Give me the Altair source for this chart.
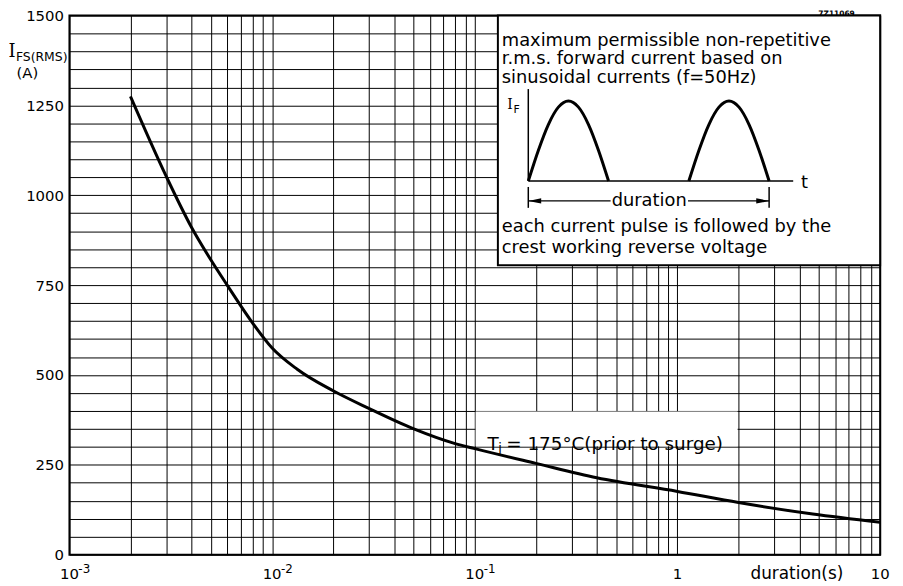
import altair as alt
import pandas as pd

FONT = "DejaVu Sans"
SERIF = "DejaVu Serif"

# ---- main curve ----
DURATION_S = [0.002, 0.003, 0.004, 0.005, 0.006, 0.008, 0.01, 0.0133, 0.02, 0.03,
              0.05, 0.08, 0.1, 0.2, 0.4, 1, 2, 4.65, 10]
I_FS_RMS_A = [1275, 1053, 911, 819, 750, 645, 575, 516, 456, 407,
              350, 309, 295, 254, 214, 176, 145, 113, 90]

# ---- axes ----
X_DOMAIN = [0.001, 10]
Y_DOMAIN = [0, 1500]
X_GRID = [m * 10.0 ** k for k in range(-3, 1) for m in range(1, 10)] + [10]
Y_GRID = list(range(0, 1501, 50))
Y_LABEL_STEP = 250
DECADES = [0.001, 0.01, 0.1, 1, 10]
DECADE_BASE = ["10", "10", "10", "1", "10"]
DECADE_EXP = ["-3", "-2", "-1", "", ""]

# ---- annotation: curve label box (data coordinates) ----
LABEL_BOX_T = [0.101, 1.98]
LABEL_BOX_I = [301.5, 398.5]
LABEL_ANCHOR_T = [0.1154]
LABEL_ANCHOR_I = [309]

# ---- inset box (data coordinates) ----
INSET_BOX_T = [0.13, 10]
INSET_BOX_I = [805, 1500]

# ---- inset schematic (own units: ms, normalised current) ----
INSET_X_DOMAIN = [-57.16, 43.83]
INSET_Y_DOMAIN = [-4.6716, 2.0694]
PULSE_STARTS_MS = [0, 20]
PULSE_LEN_MS = 10
PULSE_PHASE = [0, 0.125, 0.25, 0.375, 0.5, 0.625, 0.75, 0.875, 1]
PULSE_SHAPE = [0, 0.383, 0.707, 0.924, 1, 0.924, 0.707, 0.383, 0]
RULE_X = [0, 0, 0, 19.9, 0, 30]
RULE_X2 = [0, 33, 10.25, 30, 0, 30]
RULE_Y = [0, 0, -0.248, -0.248, -0.074, -0.074]
RULE_Y2 = [1.15, 0, -0.248, -0.248, -0.335, -0.335]
ARROW_MS = [0, 30]
ARROW_IY = [-0.248, -0.248]
INSET_TEXT = ["maximum permissible non-repetitive",
              "r.m.s. forward current based on",
              "sinusoidal currents (f=50Hz)",
              "each current pulse is followed by the",
              "crest working reverse voltage"]
INSET_TEXT_MS = [-3.3, -3.3, -3.3, -3.3, -3.3]
INSET_TEXT_IY = [1.756, 1.520, 1.289, -0.579, -0.843]

W, H = 818, 544

xs = alt.Scale(type="log", domain=X_DOMAIN, nice=False)
ys = alt.Scale(domain=Y_DOMAIN, nice=False, zero=True)
ixs = alt.Scale(domain=INSET_X_DOMAIN, nice=False, zero=False)
iys = alt.Scale(domain=INSET_Y_DOMAIN, nice=False, zero=False)

x_axis = alt.Axis(values=X_GRID, grid=True, labels=False, ticks=False, domain=False,
                  title=None, gridColor="black", gridOpacity=1, gridWidth=1)
y_axis = alt.Axis(values=Y_GRID, grid=True, ticks=False, domain=False, title=None,
                  gridColor="black", gridOpacity=1, gridWidth=1, format="d",
                  labelExpr=f"datum.value % {Y_LABEL_STEP} == 0 ? datum.label : ''",
                  labelFont=FONT, labelFontSize=15, labelColor="black",
                  labelPadding=6, labelOverlap=False)

one = pd.DataFrame({"a": [0]})

# label box (white, hides grid)
label_box = alt.Chart(pd.DataFrame({"t0": [LABEL_BOX_T[0]], "t1": [LABEL_BOX_T[1]],
                                    "i0": [LABEL_BOX_I[0]], "i1": [LABEL_BOX_I[1]]})
                      ).mark_rect(fill="white").encode(
    x=alt.X("t0:Q", scale=xs, axis=x_axis), x2="t1:Q",
    y=alt.Y("i0:Q", scale=ys, axis=y_axis), y2="i1:Q")

inset_box = alt.Chart(pd.DataFrame({"t0": [INSET_BOX_T[0]], "t1": [INSET_BOX_T[1]],
                                    "i0": [INSET_BOX_I[0]], "i1": [INSET_BOX_I[1]]})
                      ).mark_rect(fill="white", stroke="black", strokeWidth=2).encode(
    x=alt.X("t0:Q", scale=xs, axis=None), x2="t1:Q",
    y=alt.Y("i0:Q", scale=ys, axis=None), y2="i1:Q")

curve = alt.Chart(pd.DataFrame({"t": DURATION_S, "i": I_FS_RMS_A})).mark_line(
    color="black", strokeWidth=3, interpolate="monotone").encode(
    x=alt.X("t:Q", scale=xs, axis=None), y=alt.Y("i:Q", scale=ys, axis=None))

lab_df = pd.DataFrame({"t": LABEL_ANCHOR_T, "i": LABEL_ANCHOR_I})
lab_enc = dict(x=alt.X("t:Q", scale=xs, axis=None), y=alt.Y("i:Q", scale=ys, axis=None))
lab_T = alt.Chart(lab_df).mark_text(text="T", align="left", font=FONT, fontSize=18.5,
                                    color="black").encode(**lab_enc)
lab_j = alt.Chart(lab_df).mark_text(text="j", align="left", dx=11, dy=4, font=FONT,
                                    fontSize=13, color="black").encode(**lab_enc)
lab_rest = alt.Chart(lab_df).mark_text(text="= 175°C(prior to surge)", align="left", dx=19,
                                       font=FONT, fontSize=18.5, color="black").encode(**lab_enc)

dec_df = pd.DataFrame({"dec": DECADES, "base": DECADE_BASE, "exp": DECADE_EXP})
dec_base = alt.Chart(dec_df).mark_text(align="center", font=FONT, fontSize=15,
                                       color="black").encode(
    x=alt.X("dec:Q", scale=xs, axis=None), y=alt.value(H + 20), text="base:N")
dec_exp = alt.Chart(dec_df).mark_text(align="left", dx=9, font=FONT, fontSize=12,
                                      color="black").encode(
    x=alt.X("dec:Q", scale=xs, axis=None), y=alt.value(H + 14), text="exp:N")

x_title = alt.Chart(one).mark_text(
    text="duration(s)", align="center", font=FONT, fontSize=17, color="black").encode(
    x=alt.value(734), y=alt.value(H + 20))
y_title_I = alt.Chart(one).mark_text(
    text="I", align="left", font=SERIF, fontSize=18, color="black").encode(
    x=alt.value(-61.5), y=alt.value(37))
y_title_sub = alt.Chart(one).mark_text(
    text="FS(RMS)", align="left", font=FONT, fontSize=12.5, color="black").encode(
    x=alt.value(-54), y=alt.value(41.5))
y_title_unit = alt.Chart(one).mark_text(
    text="(A)", align="center", font=FONT, fontSize=15, color="black").encode(
    x=alt.value(-42.5), y=alt.value(58))
code = alt.Chart(one).mark_text(
    text="7Z11069", align="center", font=FONT, fontSize=7.5, fontWeight="bold",
    color="black").encode(x=alt.value(774), y=alt.value(-1.5))

# ---- inset schematic ----
rows = []
for p, s in enumerate(PULSE_STARTS_MS):
    for ph, v in zip(PULSE_PHASE, PULSE_SHAPE):
        rows.append({"ms": s + PULSE_LEN_MS * ph, "iy": v, "pulse": p})
pulse_df = pd.DataFrame(rows)
ienc = dict(x=alt.X("ms:Q", scale=ixs, axis=None), y=alt.Y("iy:Q", scale=iys, axis=None))

pulses = alt.Chart(pulse_df).mark_line(color="black", strokeWidth=3,
                                       interpolate="monotone").encode(
    detail="pulse:N", **ienc)

rules = alt.Chart(pd.DataFrame({"ms": RULE_X, "ms2": RULE_X2, "iy": RULE_Y, "iy2": RULE_Y2})
                  ).mark_rule(color="black", strokeWidth=1.5).encode(
    x2="ms2:Q", y2="iy2:Q", **ienc)

arrow_l = alt.Chart(pd.DataFrame({"ms": ARROW_MS[:1], "iy": ARROW_IY[:1]})).mark_point(
    shape="M0,0L2,-0.42L2,0.42Z", size=169, filled=True, color="black", opacity=1,
    strokeWidth=0).encode(**ienc)
arrow_r = alt.Chart(pd.DataFrame({"ms": ARROW_MS[1:], "iy": ARROW_IY[1:]})).mark_point(
    shape="M0,0L-2,-0.42L-2,0.42Z", size=169, filled=True, color="black", opacity=1,
    strokeWidth=0).encode(**ienc)

dur_txt = alt.Chart(pd.DataFrame({"ms": [15.06], "iy": [-0.248]})).mark_text(
    text="duration", align="center", baseline="middle", font=FONT, fontSize=18,
    color="black").encode(**ienc)
t_txt = alt.Chart(pd.DataFrame({"ms": [34.4], "iy": [-0.025]})).mark_text(
    text="t", align="center", baseline="middle", font=FONT, fontSize=18,
    color="black").encode(**ienc)
if_I = alt.Chart(pd.DataFrame({"ms": [-2.63], "iy": [0.95]})).mark_text(
    text="I", align="left", font=SERIF, fontSize=14, color="black").encode(**ienc)
if_F = alt.Chart(pd.DataFrame({"ms": [-1.85], "iy": [0.892]})).mark_text(
    text="F", align="left", font=FONT, fontSize=11, color="black").encode(**ienc)

inset_txt = alt.Chart(pd.DataFrame({"ms": INSET_TEXT_MS, "iy": INSET_TEXT_IY,
                                    "txt": INSET_TEXT})).mark_text(
    align="left", font=FONT, fontSize=18, color="black").encode(text="txt:N", **ienc)

chart = alt.layer(
    label_box, inset_box, curve, lab_T, lab_j, lab_rest, dec_base, dec_exp,
    x_title, y_title_I, y_title_sub, y_title_unit, code,
    pulses, rules, arrow_l, arrow_r, dur_txt, t_txt, if_I, if_F, inset_txt
).resolve_scale(
    x="independent", y="independent"
).properties(
    width=W, height=H,
    padding={"left": 62, "top": 5, "right": 15, "bottom": 29},
    autosize=alt.AutoSizeParams(type="none"),
    background="white",
).configure_view(stroke="black", strokeWidth=2)

chart.save("out.html", embed_options={"renderer": "svg", "actions": False})
